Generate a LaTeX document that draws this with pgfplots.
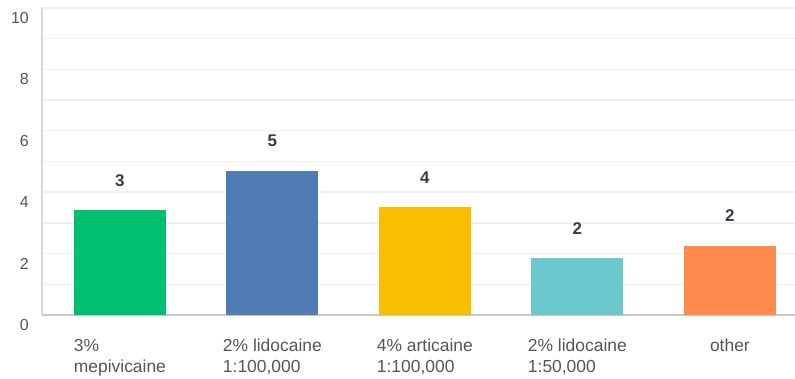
\documentclass[border=0pt]{standalone}
\usepackage{pgfplots}
\pgfplotsset{compat=1.18}
\usepackage{fontspec}
\setmainfont{Liberation Sans}
\definecolor{cgreen}{HTML}{00BF6F}
\definecolor{cblue}{HTML}{507CB6}
\definecolor{cyellow}{HTML}{F9BE00}
\definecolor{cteal}{HTML}{6BC8CD}
\definecolor{corange}{HTML}{FF8B4F}
\definecolor{gridc}{HTML}{F0F0F0}
\definecolor{ticktext}{HTML}{555555}
\definecolor{valtext}{HTML}{333E48}
\begin{document}
\begin{tikzpicture}
\path[use as bounding box] (0,0) rectangle (795bp,379bp);
\begin{axis}[
  at={(42bp,64bp)}, anchor=south west,
  scale only axis, width=753bp, height=307bp,
  xmin=-0.511, xmax=4.427, ymin=0, ymax=10,
  axis x line*=bottom, axis y line*=left,
  x axis line style={-, draw=black!22, line width=1.6bp},
  y axis line style={-, draw=black!15, line width=1.4bp},
  ytick={0,2,...,10}, minor ytick={1,3,...,9},
  ymajorgrids, yminorgrids,
  major grid style={draw=gridc, line width=1.4bp},
  minor grid style={draw=gridc, line width=1.4bp},
  major tick length=0pt, minor tick length=0pt,
  /pgf/number format/assume math mode=true,
  yticklabel style={font=\fontsize{16}{19}\selectfont, text=ticktext, inner sep=0pt, xshift=-13bp, yshift=-10bp},
  xtick={0,1,2,3,4},
  xticklabels={{3\%\\mepivicaine},{2\% lidocaine\\1:100,000},{4\% articaine\\1:100,000},{2\% lidocaine\\1:50,000},{other}},
  xticklabel style={font=\fontsize{17.5}{21}\selectfont, text=ticktext, align=left, anchor=north, inner sep=0pt, yshift=-24bp},
  ybar, bar width=92bp, bar shift=0pt,
  nodes near coords,
  every node near coord/.append style={font=\fontsize{17}{20}\selectfont\bfseries, text=valtext, anchor=center, yshift=30bp,
    /pgf/number format/fixed, /pgf/number format/precision=0, /pgf/number format/assume math mode=true},
]
\addplot[fill=cgreen, draw=none] coordinates {(0,3.41)};
\addplot[fill=cblue, draw=none] coordinates {(1,4.70)};
\addplot[fill=cyellow, draw=none] coordinates {(2,3.51)};
\addplot[fill=cteal, draw=none] coordinates {(3,1.85)};
\addplot[fill=corange, draw=none] coordinates {(4,2.26)};
\end{axis}
\end{tikzpicture}
\end{document}
